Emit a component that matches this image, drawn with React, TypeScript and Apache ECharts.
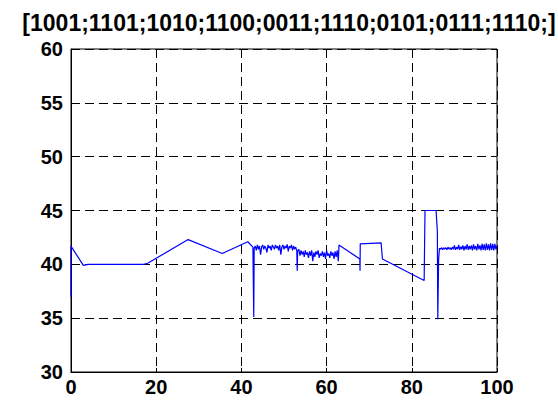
import React, { useEffect, useRef } from "react";
import * as echarts from "echarts";

const titleText = "[1001;1101;1010;1100;0011;1110;0101;0111;1110;]";
const xTicks = [0, 20, 40, 60, 80, 100];
const yTicks = [30, 35, 40, 45, 50, 55, 60];

// smooth leading part
const xA = [0, 0, 0.3, 2.9, 4, 17, 18, 27.5, 35.5, 41.5, 42.7, 42.9, 43.0];
const yA = [37.0, 41.7, 41.5, 39.9, 40.0, 40.0, 40.1, 42.3, 41.0, 42.1, 41.6, 35.1, 41.5];

// noisy band 1 (43 - 53)
const xN1 = [43.25, 43.5, 43.75, 44.0, 44.25, 44.5, 44.75, 45.0, 45.25, 45.5, 45.75, 46.0, 46.25, 46.5, 46.75, 47.0, 47.25, 47.5, 47.75, 48.0, 48.25, 48.5, 48.75, 49.0, 49.25, 49.5, 49.75, 50.0, 50.25, 50.5, 50.75, 51.0, 51.25, 51.5, 51.75, 52.0, 52.25, 52.5, 52.75, 53.0, 53.1, 53.2];
const yN1 = [41.7, 41.3, 41.8, 41.4, 41.7, 40.9, 41.6, 41.8, 41.4, 41.7, 41.5, 41.1, 41.8, 41.5, 41.7, 41.3, 41.8, 41.6, 41.4, 41.8, 41.5, 41.7, 41.3, 41.8, 40.9, 41.6, 41.8, 41.4, 41.7, 41.5, 41.85, 41.2, 41.7, 41.5, 41.8, 41.3, 41.7, 41.4, 41.6, 41.3, 39.4, 41.2];

// noisy band 2 (53 - 63)
const xN2 = [53.5, 53.75, 54.0, 54.25, 54.5, 54.75, 55.0, 55.25, 55.5, 55.75, 56.0, 56.25, 56.5, 56.75, 57.0, 57.25, 57.5, 57.75, 58.0, 58.25, 58.5, 58.75, 59.0, 59.25, 59.5, 59.75, 60.0, 60.25, 60.5, 60.75, 61.0, 61.25, 61.5, 61.75, 62.0, 62.25, 62.5, 62.75, 62.85];
const yN2 = [41.4, 40.8, 41.3, 40.9, 41.2, 40.7, 41.3, 40.9, 41.1, 40.6, 41.2, 40.8, 41.3, 40.3, 41.1, 40.7, 41.2, 40.9, 41.3, 40.6, 41.0, 40.8, 41.2, 40.7, 41.1, 40.5, 41.3, 40.8, 41.0, 40.6, 41.2, 40.8, 41.1, 40.5, 41.2, 40.7, 41.3, 40.3, 41.1];

// middle piecewise part
const xB = [62.9, 67.8, 67.85, 67.9, 72.8, 73.1, 82.9, 83.1, 85.7, 86.0, 86.1, 86.3, 86.5];
const yB = [41.8, 40.5, 39.4, 41.9, 42.0, 40.5, 38.5, 45.0, 45.0, 43.1, 34.9, 40.5, 41.5];

// noisy band 3 (86.6 - 100)
const xN3 = [86.75, 87.0, 87.25, 87.5, 87.75, 88.0, 88.25, 88.5, 88.75, 89.0, 89.25, 89.5, 89.75, 90.0, 90.25, 90.5, 90.75, 91.0, 91.25, 91.5, 91.75, 92.0, 92.25, 92.5, 92.75, 93.0, 93.25, 93.5, 93.75, 94.0, 94.25, 94.5, 94.75, 95.0, 95.25, 95.5, 95.75, 96.0, 96.25, 96.5, 96.75, 97.0, 97.25, 97.5, 97.75, 98.0, 98.25, 98.5, 98.75, 99.0, 99.25, 99.5, 99.75, 100.0];
const yN3 = [41.4, 41.55, 41.35, 41.55, 41.4, 41.55, 41.35, 41.6, 41.4, 41.55, 41.35, 41.6, 41.4, 41.75, 41.35, 41.6, 41.4, 41.8, 41.35, 41.65, 41.4, 41.75, 41.3, 41.7, 41.4, 41.85, 41.35, 41.7, 41.4, 41.75, 41.3, 41.85, 41.4, 41.7, 41.3, 41.9, 41.4, 41.75, 41.3, 41.9, 41.35, 41.85, 41.3, 41.95, 41.35, 41.85, 41.3, 41.95, 41.35, 41.9, 41.3, 41.9, 41.4, 41.7];

const allX = [...xA, ...xN1, ...xN2, ...xB, ...xN3];
const allY = [...yA, ...yN1, ...yN2, ...yB, ...yN3];

export default function App() {
  const ref = useRef<HTMLDivElement>(null);
  useEffect(() => {
    document.body.style.margin = "0";
    const chart = echarts.init(ref.current!, null, { renderer: "svg" });
    const font = "'Liberation Sans', Arial, Helvetica, sans-serif";
    const data = allX.map((x, i) => [x, allY[i]]);
    chart.setOption({
      animation: false,
      backgroundColor: "#ffffff",
      title: {
        text: titleText,
        left: 284,
        top: 6,
        textAlign: "center",
        textStyle: { fontFamily: font, fontWeight: "bold", fontSize: 23, color: "#000" },
      },
      grid: {
        left: 71,
        right: 61,
        top: 49,
        bottom: 31,
        show: true,
        borderColor: "#000",
        borderWidth: 1,
        backgroundColor: "transparent",
      },
      xAxis: {
        type: "value",
        min: xTicks[0],
        max: xTicks[xTicks.length - 1],
        interval: 20,
        axisLine: { show: true, onZero: false, lineStyle: { color: "#000", width: 1 } },
        axisTick: { show: true, inside: true, length: 4, lineStyle: { color: "#000" } },
        axisLabel: { fontFamily: font, fontWeight: "bold", fontSize: 20, color: "#000", margin: 5 },
        splitLine: { show: true, lineStyle: { color: "#000", type: [9, 5], width: 1 } },
      },
      yAxis: {
        type: "value",
        min: yTicks[0],
        max: yTicks[yTicks.length - 1],
        interval: 5,
        axisLine: { show: true, onZero: false, lineStyle: { color: "#000", width: 1 } },
        axisTick: { show: true, inside: true, length: 4, lineStyle: { color: "#000" } },
        axisLabel: { fontFamily: font, fontWeight: "bold", fontSize: 20, color: "#000", margin: 8 },
        splitLine: { show: true, lineStyle: { color: "#000", type: [9, 5], width: 1 } },
      },
      series: [
        {
          type: "line",
          data,
          showSymbol: false,
          symbol: "none",
          lineStyle: { color: "#0000ff", width: 1.2 },
          z: 3,
        },
      ],
    });
    return () => chart.dispose();
  }, []);
  return <div ref={ref} style={{ width: 558, height: 403 }} />;
}
